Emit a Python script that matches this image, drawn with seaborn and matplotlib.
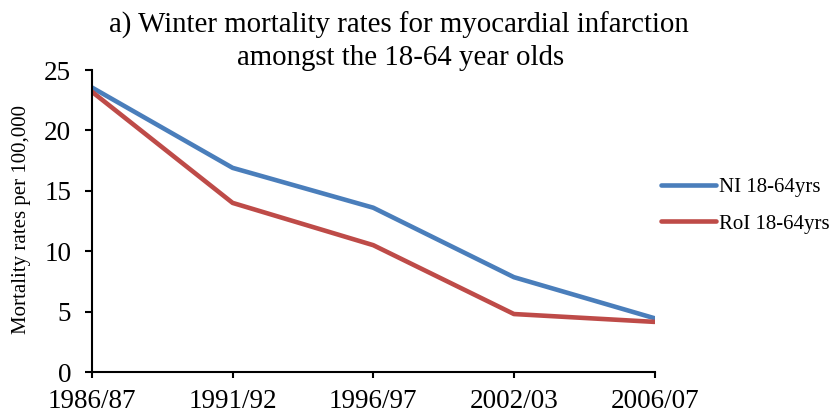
import matplotlib
matplotlib.use('Agg')
import matplotlib.pyplot as plt
import pandas as pd
import seaborn as sns

periods = ['1986/87', '1991/92', '1996/97', '2002/03', '2006/07']
ni_rates = [23.55, 16.9, 13.6, 7.85, 4.45]
roi_rates = [23.2, 14.0, 10.5, 4.8, 4.15]
series_names = ['NI 18-64yrs', 'RoI 18-64yrs']
series_colors = ['#4A7EBB', '#BE4B48']


def build_df():
    rows = []
    for name, values in zip(series_names, [ni_rates, roi_rates]):
        for period, value in zip(periods, values):
            rows.append({'Period': period, 'Rate': value, 'Series': name})
    return pd.DataFrame(rows)


def main():
    sns.set_theme(style='white')
    plt.rcParams['font.family'] = ['Liberation Serif', 'DejaVu Serif']
    plt.rcParams['text.color'] = 'black'

    df = build_df()
    fig = plt.figure(figsize=(8.36, 4.18), dpi=100)
    ax = fig.add_axes([0.110, 0.110, 0.673, 0.7225])

    sns.lineplot(data=df, x='Period', y='Rate', hue='Series',
                 palette=series_colors, linewidth=3.3, ax=ax, sort=False)

    ax.set_xlim(0, len(periods) - 1)
    ax.set_ylim(0, 25)
    ax.set_yticks([0, 5, 10, 15, 20, 25])
    ax.set_xticks(range(len(periods)))
    ax.set_xticklabels(periods)
    ax.set_xlabel('')
    ax.set_ylabel('')

    for side in ['top', 'right']:
        ax.spines[side].set_visible(False)
    for side in ['left', 'bottom']:
        ax.spines[side].set_color('black')
        ax.spines[side].set_linewidth(1.5)

    ax.tick_params(axis='both', which='major', labelsize=19.5, color='black',
                   labelcolor='black', direction='out', width=1.5,
                   bottom=True, left=True)
    ax.tick_params(axis='y', length=5, pad=10)
    ax.tick_params(axis='x', length=4, pad=8)

    fig.text(0.026, 0.474, 'Mortality rates per 100,000', rotation=90,
             ha='center', va='center', fontsize=15, color='black')

    fig.text(0.477, 0.921, 'a) Winter mortality rates for myocardial infarction',
             ha='center', va='baseline', fontsize=20.8, color='black')
    fig.text(0.479, 0.8445, 'amongst the 18-64 year olds',
             ha='center', va='baseline', fontsize=20.8, color='black')

    leg = ax.legend(loc='center left', bbox_to_anchor=(0.791, 0.508),
                    bbox_transform=fig.transFigure,
                    frameon=False, fontsize=15, handlelength=2.65,
                    handletextpad=0.12, labelspacing=0.8, borderaxespad=0,
                    borderpad=0)
    for text in leg.get_texts():
        text.set_color('black')
    for line in leg.get_lines():
        line.set_linewidth(3.3)
        line.set_solid_capstyle('round')

    plt.savefig('out.png', dpi=100)
    plt.close()


if __name__ == '__main__':
    main()
